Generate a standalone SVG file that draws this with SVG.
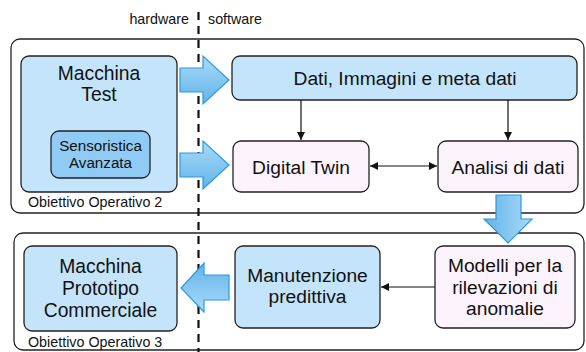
<svg xmlns="http://www.w3.org/2000/svg" width="586" height="352" viewBox="0 0 586 352">
<defs>
<style>
text{font-family:"Liberation Sans",Arial,sans-serif;fill:#111}
.big{font-size:19.3px;text-anchor:middle}
.mid{font-size:19.2px;text-anchor:middle}
.sm{font-size:15.2px;text-anchor:middle}
.lbl{font-size:14.3px}
.frame{fill:#fff;stroke:#222;stroke-width:1.3}
.blue{fill:#c4e4fb;stroke:#222;stroke-width:1.3}
.dblue{fill:#8fcbf5;stroke:#222;stroke-width:1.3}
.pink{fill:#fdf3fd;stroke:#222;stroke-width:1.3}
.big-arrow{stroke:#2a9ae0;stroke-width:1.2}
.conn{stroke:#111;stroke-width:1.2;fill:none}
</style>
<linearGradient id="gR" x1="0" y1="0" x2="0" y2="1"><stop offset="0" stop-color="#a9dbf9"/><stop offset="1" stop-color="#62b3ea"/></linearGradient>
<linearGradient id="gD" x1="1" y1="0" x2="0" y2="0"><stop offset="0" stop-color="#a9dbf9"/><stop offset="1" stop-color="#62b3ea"/></linearGradient>
<linearGradient id="gL" x1="0" y1="1" x2="0" y2="0"><stop offset="0" stop-color="#a9dbf9"/><stop offset="1" stop-color="#62b3ea"/></linearGradient>
<marker id="ah" viewBox="0 0 10 10" refX="10" refY="5" markerWidth="8" markerHeight="8" markerUnits="userSpaceOnUse" orient="auto-start-reverse"><path d="M0,0 L10,5 L0,10 Z" fill="#111"/></marker>
</defs>
<rect width="586" height="352" fill="#fff"/>
<g id="frame-oo2"><rect class="frame" x="11" y="39" width="573" height="174" rx="9"/><text class="lbl" x="28" y="207">Obiettivo Operativo 2</text></g>
<g id="frame-oo3"><rect class="frame" x="14" y="233" width="570" height="117" rx="9"/><text class="lbl" x="28" y="347">Obiettivo Operativo 3</text></g>
<g id="divider"><line x1="198.5" y1="12" x2="198.5" y2="352" stroke="#111" stroke-width="2.2" stroke-dasharray="8,6"/><text class="lbl" x="189" y="24" text-anchor="end">hardware</text><text class="lbl" x="208" y="24">software</text></g>
<g id="macchina-test"><rect class="blue" x="21" y="56" width="156" height="136" rx="8"/><text class="big" x="99" y="80">Macchina</text><text class="big" x="99" y="101">Test</text></g>
<g id="sensoristica"><rect class="dblue" x="51" y="131" width="99" height="47" rx="8"/><text class="sm" x="100.5" y="151">Sensoristica</text><text class="sm" x="100.5" y="168">Avanzata</text></g>
<g id="dati"><rect class="blue" x="232" y="56" width="345" height="44" rx="8"/><text class="mid" x="405" y="85">Dati, Immagini e meta dati</text></g>
<g id="digital-twin"><rect class="pink" x="233" y="141" width="136" height="51" rx="8"/><text class="mid" x="301" y="174">Digital Twin</text></g>
<g id="analisi"><rect class="pink" x="438" y="141" width="140" height="51" rx="8"/><text class="mid" x="508" y="174">Analisi di dati</text></g>
<g id="macchina-prototipo"><rect class="blue" x="24" y="246" width="153" height="85" rx="8"/><text class="big" x="100.5" y="273">Macchina</text><text class="big" x="100.5" y="295">Prototipo</text><text class="big" x="100.5" y="317">Commerciale</text></g>
<g id="manutenzione"><rect class="blue" x="235" y="246" width="145" height="82" rx="8"/><text class="mid" x="307.5" y="282">Manutenzione</text><text class="mid" x="307.5" y="303">predittiva</text></g>
<g id="modelli"><rect class="pink" x="435" y="246" width="140" height="82" rx="8"/><text class="mid" x="505" y="272">Modelli per la</text><text class="mid" x="505" y="294">rilevazioni di</text><text class="mid" x="505" y="315">anomalie</text></g>
<g id="connectors">
<path class="big-arrow" fill="url(#gR)" d="M180,68 H203 V56 L229,80 L203,104 V92 H180 Z"/>
<path class="big-arrow" fill="url(#gR)" d="M180,153 H203 V141 L229,165 L203,189 V177 H180 Z"/>
<path class="big-arrow" fill="url(#gD)" d="M496,195 V219 H484 L508,243 L532,219 H521 V195 Z"/>
<path class="big-arrow" fill="url(#gL)" d="M229,275 H204 V263 L181,288 L204,312 V300 H229 Z"/>
<line class="conn" x1="301" y1="100" x2="301" y2="140" marker-end="url(#ah)"/>
<line class="conn" x1="508" y1="100" x2="508" y2="140" marker-end="url(#ah)"/>
<line class="conn" x1="370" y1="166" x2="437" y2="166" marker-start="url(#ah)" marker-end="url(#ah)"/>
<line class="conn" x1="435" y1="287" x2="381" y2="287" marker-end="url(#ah)"/>
</g>
</svg>
